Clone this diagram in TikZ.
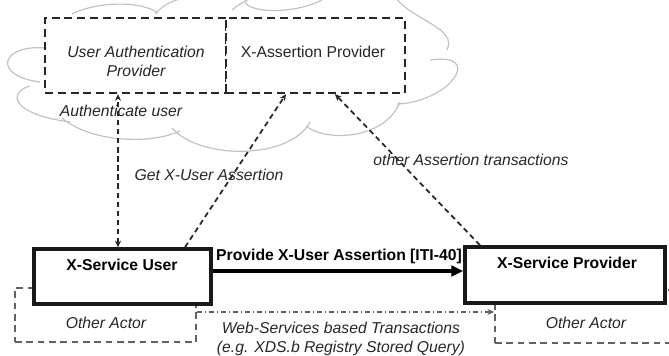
\documentclass[tikz,border=0pt]{standalone}
\usepackage{fontspec}
\setmainfont{Liberation Sans}
\usetikzlibrary{arrows.meta,fit}
\begin{document}
\begin{tikzpicture}[x=0.75pt,y=-0.75pt,
  cloudline/.style={draw=black!24, line width=0.9pt},
  topbox/.style={draw=black!85, fill=white, line width=1.7pt, dash pattern=on 6pt off 3.6pt, inner sep=0pt},
  actorbox/.style={draw=black!90, fill=white, line width=2.6pt, inner sep=0pt},
  otherbox/.style={draw=black!62, line width=1.3pt, dash pattern=on 5pt off 3.5pt, inner sep=0pt},
  conn/.style={draw=black!85, line width=1.3pt, dash pattern=on 4pt off 2.8pt, -{Stealth[length=5pt,width=4.5pt]}},
  wsline/.style={draw=black!62, line width=1.1pt, dash pattern=on 4pt off 2pt on 1pt off 2pt, -{Stealth[length=5pt,width=4.5pt]}},
  mainarrow/.style={draw=black, line width=2.3pt, -{Triangle[length=9pt,width=8pt]}},
  lbl/.style={font=\fontsize{11.8}{14.2}\selectfont\itshape, text=black!85, inner sep=0pt},
  plain/.style={font=\fontsize{11.8}{14.2}\selectfont, text=black!85, inner sep=0pt},
  heading/.style={font=\fontsize{11.8}{14.2}\selectfont\bfseries, text=black, inner sep=0pt}]
\useasboundingbox (0,0) rectangle (669,355);

% cloud outline, drawn as separate lobes
\draw[cloudline] (46,48) .. controls (0,44) and (-8,76) .. (40,82);
\draw[cloudline] (30,86) .. controls (8,92) and (10,114) .. (70,122);
\draw[cloudline] (62,118) .. controls (90,142) and (150,145) .. (180,131);
\draw[cloudline] (172,128) .. controls (200,160) and (290,160) .. (310,122);
\draw[cloudline] (306,126) .. controls (325,142) and (385,140) .. (400,102);
\draw[cloudline] (397,104) .. controls (450,102) and (485,52) .. (430,60);
\draw[cloudline] (447,50) .. controls (458,28) and (412,20) .. (396,-2);
\draw[cloudline] (72,14) .. controls (95,2) and (140,0) .. (158,13);
\draw[cloudline] (155,14) .. controls (162,6) and (172,0) .. (185,-2);
\draw[cloudline] (232,10) .. controls (238,5) and (244,1) .. (252,-2);
\draw[cloudline] (245,2) .. controls (250,14) and (300,14) .. (325,-2);

% providers inside the cloud
\node[topbox, fit={(45,18) (226,93)}] (uap) {};
\node[topbox, fit={(226,18) (405,93)}] (xap) {};

% other actors behind the service boxes
\node[otherbox, fit={(15,288) (196,342)}] (oa1) {};
\node[otherbox, fit={(495,290) (700,343)}] (oa2) {};

% web-services transactions
\coordinate (wsy) at (0,312);
\draw[wsline] (oa1.east |- wsy) -- (oa2.west |- wsy);

% service actors
\node[actorbox, fit={(34,249) (211,304)}] (xsu) {};
\node[actorbox, fit={(465,247) (665,303)}] (xsp) {};

% transactions
\coordinate (authx) at (118,0);
\coordinate (getlow) at (185,0);
\coordinate (gethigh) at (286,0);
\coordinate (othlow) at (480,0);
\coordinate (othhigh) at (335,0);
\coordinate (provy) at (0,271);
\draw[conn, {Stealth[length=5pt,width=4.5pt]}-{Stealth[length=5pt,width=4.5pt]}] (xsu.north -| authx) -- (uap.south -| authx);
\draw[conn] (xsu.north -| getlow) -- (xap.south -| gethigh);
\draw[conn] (xsp.north -| othlow) -- (xap.south -| othhigh);
\draw[mainarrow] (xsu.east |- provy) -- (xsp.west |- provy);

% texts
\node[lbl, align=center] (uaptxt) at (136,61) {User Authentication\\Provider};
\node[plain, anchor=base] (xaptxt) at (313,57.5) {X-Assertion Provider};
\node[lbl, anchor=base] (authtxt) at (121,116.5) {Authenticate user};
\node[lbl, anchor=base] (gettxt) at (209,180.5) {Get X-User Assertion};
\node[lbl, anchor=base] (othtxt) at (471,165.5) {other Assertion transactions};
\node[heading, anchor=base] (xsutxt) at (122,270.5) {X-Service User};
\node[heading, anchor=base] (xsptxt) at (567,268.5) {X-Service Provider};
\node[heading, anchor=base] (provtxt) at (339,260.5) {Provide X-User Assertion [ITI-40]};
\node[lbl, anchor=base] (oa1txt) at (106,328.5) {Other Actor};
\node[lbl, anchor=base] (oa2txt) at (586,328.5) {Other Actor};
\node[lbl, align=center] (wstxt) at (341,339) {Web-Services based Transactions\\(e.g. XDS.b Registry Stored Query)};
\end{tikzpicture}
\end{document}
